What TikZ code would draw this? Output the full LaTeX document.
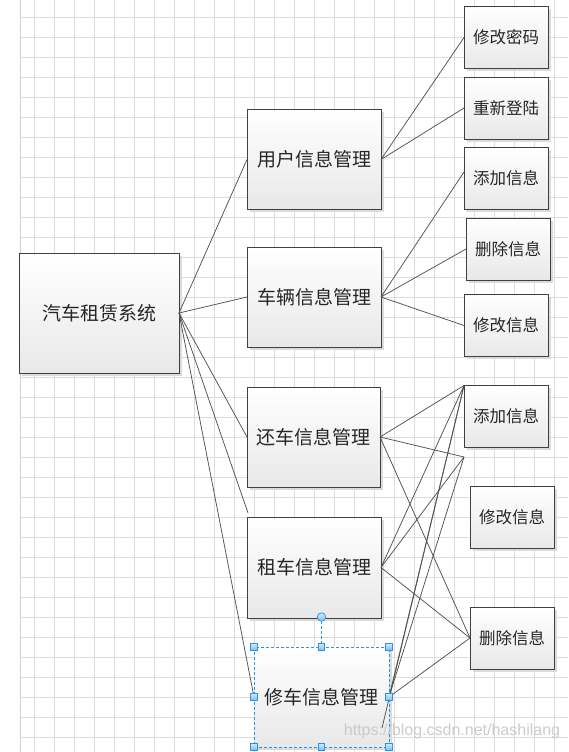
\documentclass[tikz,border=0pt]{standalone}
\usepackage{fontspec}
\newfontfamily\cjk{Noto Sans CJK SC}
\newfontfamily\wmfont{Liberation Sans}
\usetikzlibrary{shadows}
\definecolor{gridc}{HTML}{DCDCDC}
\definecolor{selblue}{HTML}{2A93E6}
\definecolor{handlelight}{HTML}{CFE8FC}
\definecolor{handledark}{HTML}{7DBDF2}
\begin{document}
\begin{tikzpicture}[x=1pt,y=-1pt,
  box/.style={draw=black!75, line width=0.8pt, top color=white, bottom color=black!9,
    inner sep=0pt, outer sep=0pt, text=black!85,
    drop shadow={shadow xshift=2.5pt,shadow yshift=-2.5pt,fill=black!14,opacity=1}},
  midbox/.style={box, minimum width=134pt, minimum height=100pt, font=\cjk\fontsize{19}{19}\selectfont},
  leafbox/.style={box, minimum width=84pt, minimum height=62pt, font=\cjk\fontsize{16.5}{16.5}\selectfont},
  conn/.style={draw=black!68, line width=0.75pt},
  selbox/.style={draw=selblue, line width=0.8pt, dash pattern=on 3pt off 2pt},
  handle/.style={draw=selblue, line width=0.7pt, top color=handlelight, bottom color=handledark,
    minimum size=6.5pt, inner sep=0pt, outer sep=0pt},
  rothandle/.style={circle, draw=selblue, line width=0.7pt, top color=handlelight, bottom color=handledark,
    minimum size=8.5pt, inner sep=0pt, outer sep=0pt}
]
\useasboundingbox (0,0) rectangle (568,752);
\fill[white] (0,0) rectangle (568,752);
% grid
\foreach \k in {0,...,26} \draw[gridc, line width=0.8pt] (34.3+20*\k,0) -- (34.3+20*\k,752);
\foreach \k in {0,...,36} \draw[gridc, line width=0.8pt] (20,17.3+20*\k) -- (568,17.3+20*\k);
\draw[black!18, line width=1.6pt] (20.5,0) -- (20.5,752);

% boxes
\node[box, minimum width=160pt, minimum height=120pt, font=\cjk\fontsize{19}{19}\selectfont] (sys) at (99,313) {汽车租赁系统};
\node[midbox] (user) at (314,159.5) {用户信息管理};
\node[midbox] (veh) at (314,297) {车辆信息管理};
\node[midbox, minimum width=133pt] (ret) at (313.5,437) {还车信息管理};
\node[midbox, minimum height=101pt] (rent) at (314,567.5) {租车信息管理};
\node[midbox, minimum width=135pt, draw=none] (rep) at (321.5,697) {修车信息管理};

\node[leafbox] (pwd) at (506,37.5) {修改密码};
\node[leafbox] (relog) at (506,108) {重新登陆};
\node[leafbox] (add1) at (506,178) {添加信息};
\node[leafbox] (del1) at (508,249) {删除信息};
\node[leafbox] (mod1) at (506,325.5) {修改信息};
\node[leafbox] (add2) at (506,416.5) {添加信息};
\node[leafbox] (mod2) at (512,517.5) {修改信息};
\node[leafbox] (del2) at (512,638) {删除信息};

% free connector ends
\coordinate (t1) at (248,513);
\coordinate (p1) at (464,457);
\coordinate (q1) at (382,728);

% connectors
\draw[conn] (sys.east) -- (user.west);
\draw[conn] (sys.east) -- (veh.west);
\draw[conn] (sys.east) -- (ret.west);
\draw[conn] (sys.east) -- (t1);
\draw[conn] (sys.east) -- (rep.west);

\draw[conn] (user.east) -- (pwd.west);
\draw[conn] (user.east) -- (relog.west);

\draw[conn] (veh.east) -- ([yshift=6pt]add1.west);
\draw[conn] (veh.east) -- (del1.west);
\draw[conn] (veh.east) -- (mod1.west);

\draw[conn] (ret.east) -- (add2.north west);
\draw[conn] (ret.east) -- (p1);
\draw[conn] (ret.east) -- (del2.west);

\draw[conn] (rent.east) -- (add2.north west);
\draw[conn] (rent.east) -- (p1);
\draw[conn] (rent.east) -- (del2.west);

\draw[conn] (rep.east) -- (add2.north west);
\draw[conn] (rep.east) -- (p1);
\draw[conn] (rep.east) -- (del2.west);
\draw[conn] (q1) -- (add2.north west);

% selection of repair box
\draw[selbox] (rep.north west) rectangle (rep.south east);
\node[rothandle] (rot) at (321.5,617) {};
\draw[selbox] (rot.south) -- (rep.north);
\foreach \a in {north west,north,north east,west,east,south west,south,south east}
  \node[handle] at (rep.\a) {};

% watermark
\node[font=\wmfont\fontsize{16}{16}\selectfont, text=black!22, opacity=0.9] (wm) at (452,731) {https://blog.csdn.net/hashilang};
\end{tikzpicture}
\end{document}
